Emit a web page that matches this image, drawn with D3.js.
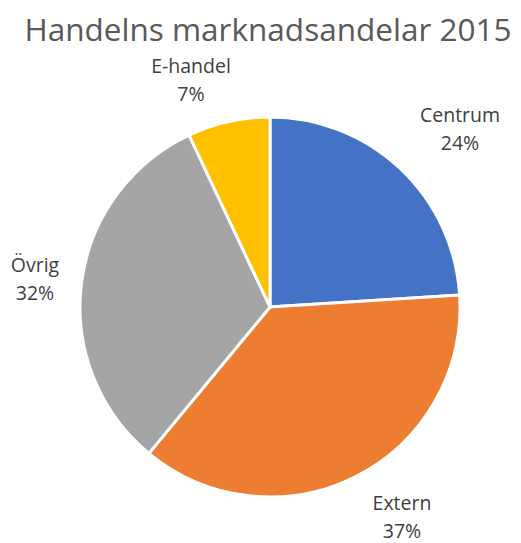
<!doctype html>
<html>
  <head>
    <meta charset="utf-8">
    <script src="https://cdnjs.cloudflare.com/ajax/libs/d3/7.8.5/d3.min.js"></script>
  <style>
    body { margin: 0; background: #fff; }
    text { font-family: "Open Sans", sans-serif; }
    .title { fill: #595959; font-size: 31.5px; }
    .lbl { fill: #404040; font-size: 19.5px; }
    path.slice { stroke: #fff; stroke-width: 3; }
  </style>
  </head>
  <body>
    <svg id="chart" width="521" height="543"></svg>
    <script>
      var categories = ["Centrum", "Extern", "Övrig", "E-handel"];
      var shares = [24, 37, 32, 7];
      var colors = ["#4472C4", "#ED7D31", "#A5A5A5", "#FFC000"];
      // label anchor positions, by hand to match the picture
      var labelPos = [[460, 122], [402, 510], [35, 272], [191, 73]];

      var data = categories.map((c, i) => ({ name: c, value: shares[i] }));

      var svg = d3.select("#chart");
      var cx = 270, cy = 307, r = 190;

      svg.append("text")
        .attr("class", "title")
        .attr("x", 268)
        .attr("y", 41)
        .attr("text-anchor", "middle")
        .text("Handelns marknadsandelar 2015");

      var pie = d3.pie().sort(null).value(d => d.value);
      var arc = d3.arc().innerRadius(0).outerRadius(r);

      var g = svg.append("g").attr("transform", `translate(${cx},${cy})`);
      g.selectAll("path")
        .data(pie(data))
        .enter().append("path")
          .attr("class", "slice")
          .attr("fill", (d, i) => colors[i])
          .attr("d", arc);

      var total = d3.sum(shares);
      var labels = svg.selectAll("text.lbl")
        .data(data)
        .enter().append("text")
          .attr("class", "lbl")
          .attr("text-anchor", "middle")
          .attr("x", (d, i) => labelPos[i][0])
          .attr("y", (d, i) => labelPos[i][1]);
      labels.append("tspan").text(d => d.name);
      labels.append("tspan")
        .attr("x", (d, i) => labelPos[i][0])
        .attr("dy", 28)
        .text(d => Math.round(d.value / total * 100) + "%");
    </script>
  </body>
</html>
